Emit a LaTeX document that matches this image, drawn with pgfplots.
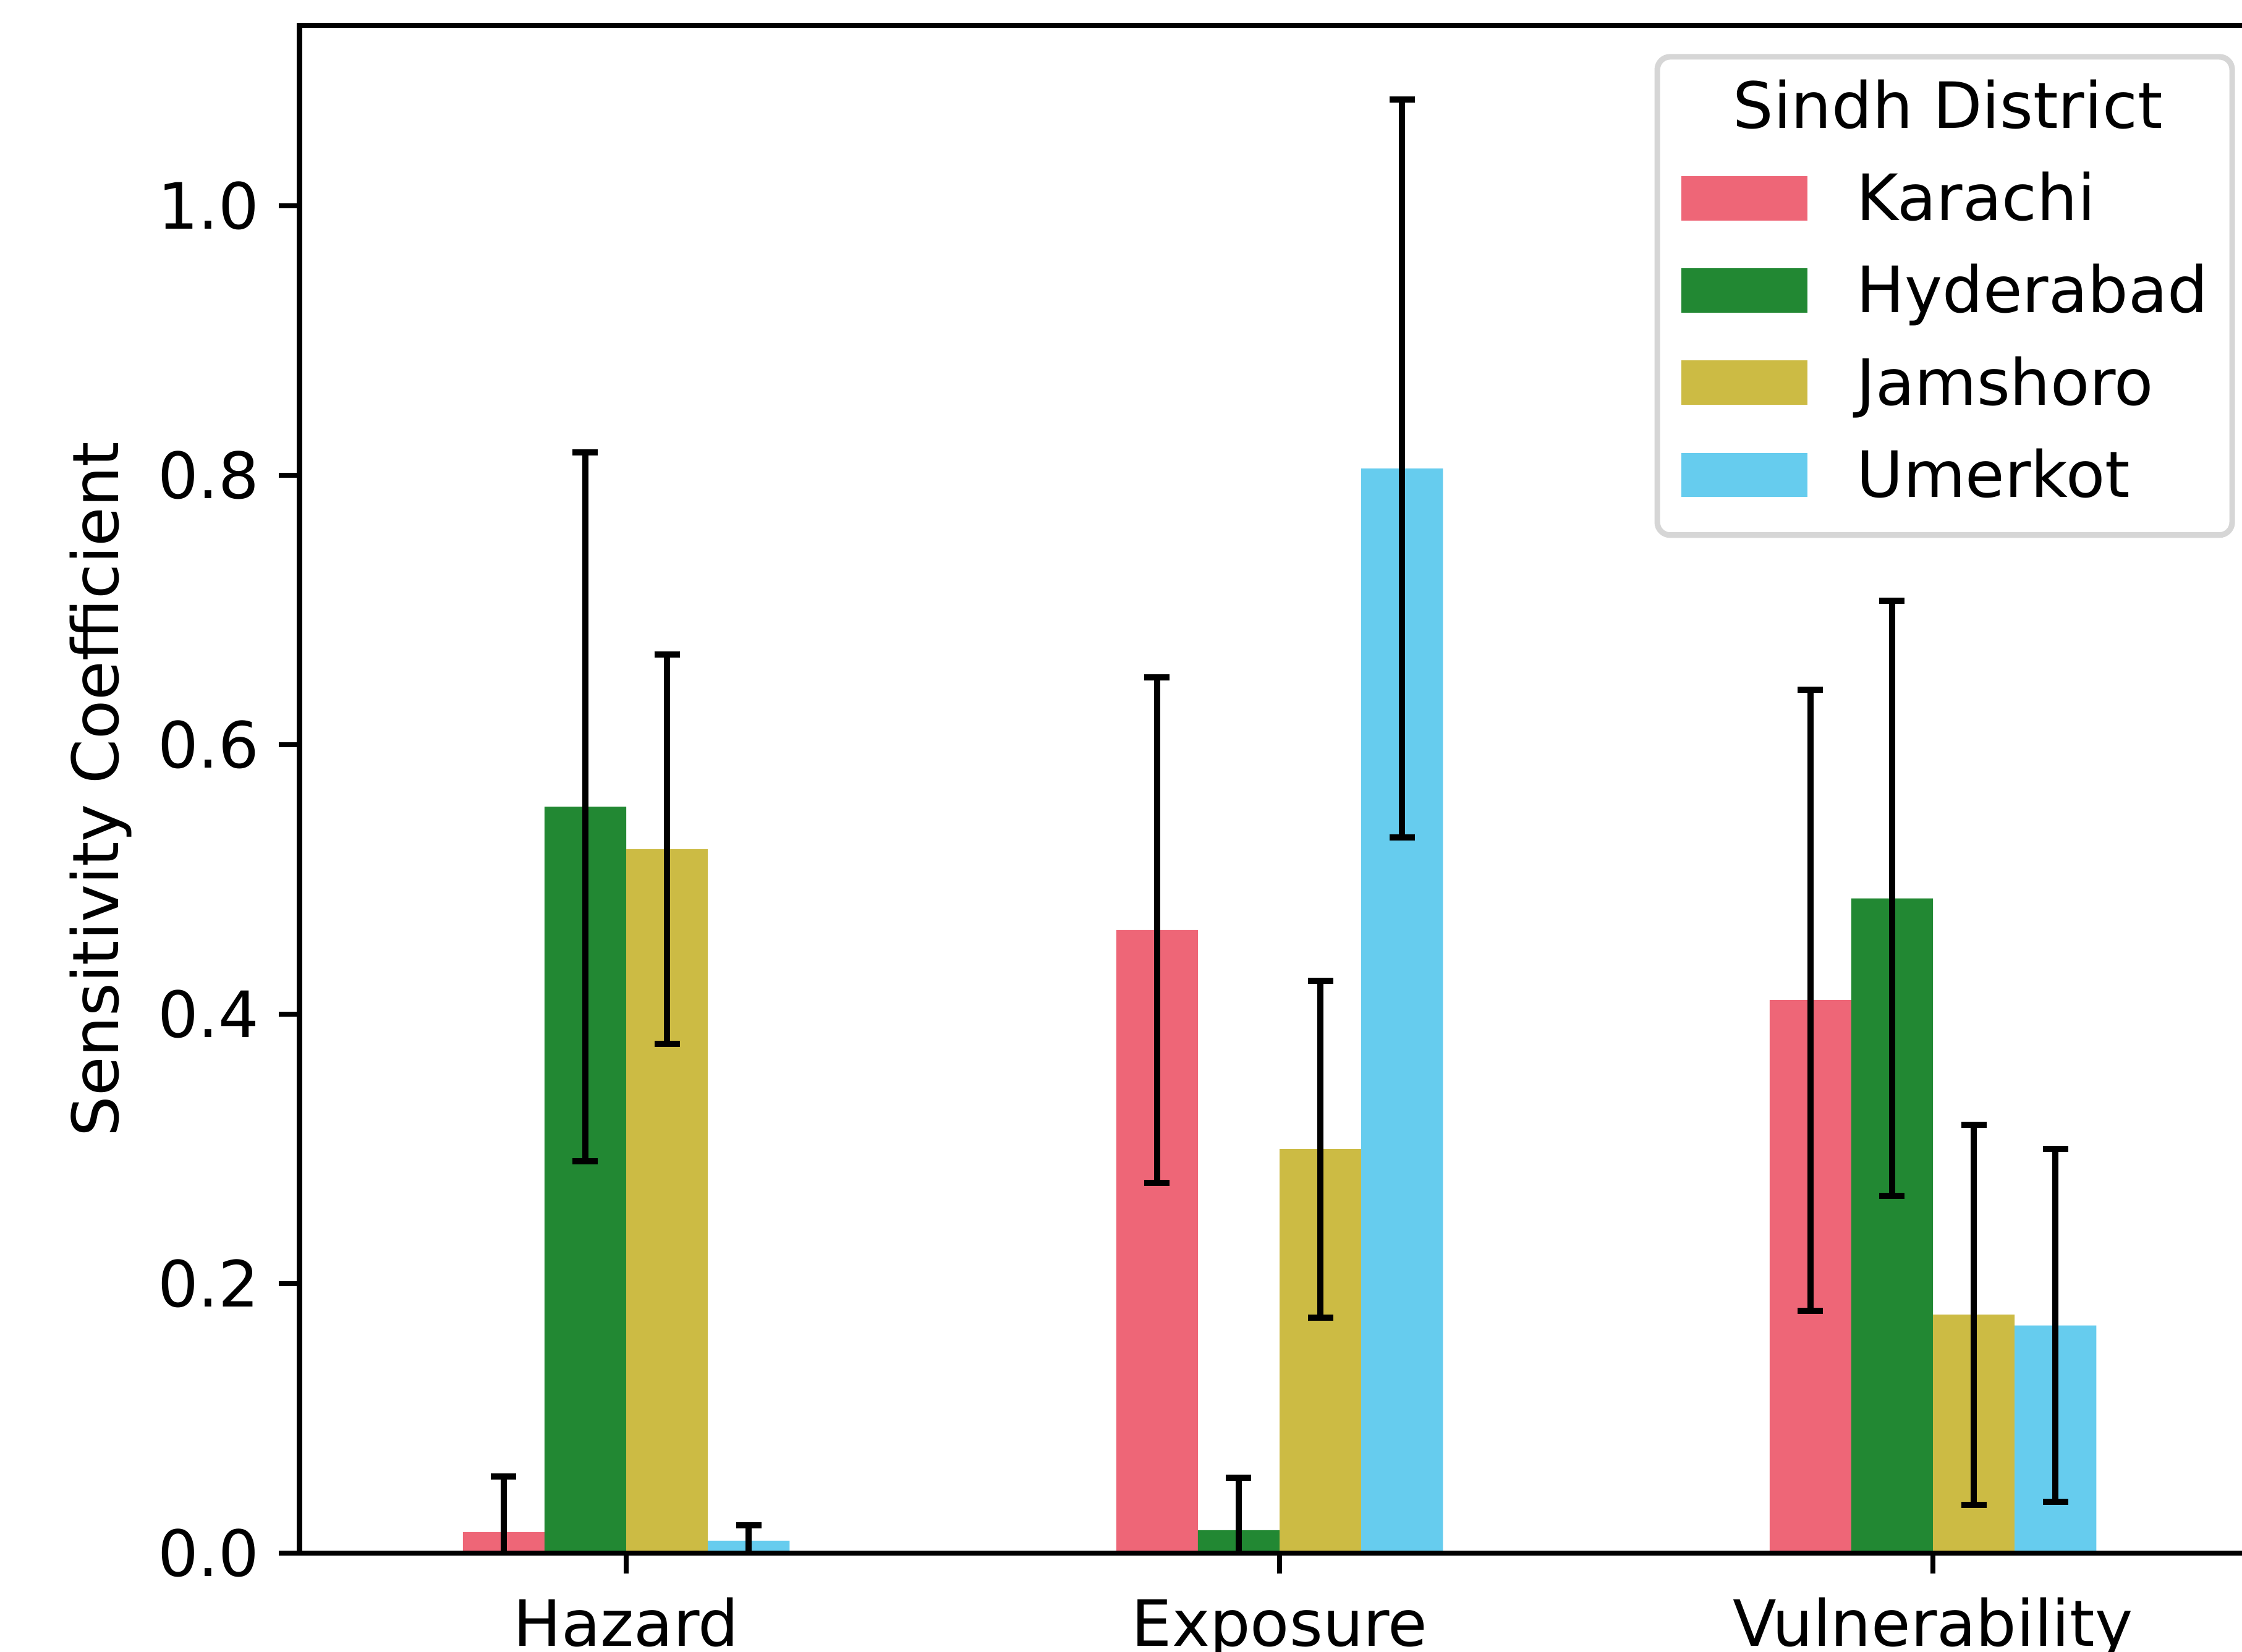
\documentclass[border=0pt]{standalone}
\usepackage{pgfplots}
\pgfplotsset{compat=1.18}
\usepackage{pgfplotstable}
\usepackage{fontspec}
\setmainfont{DejaVu Sans}
\definecolor{cKar}{HTML}{EE6677}
\definecolor{cHyd}{HTML}{228833}
\definecolor{cJam}{HTML}{CCBB44}
\definecolor{cUme}{HTML}{66CCEE}
\definecolor{legendgray}{HTML}{D6D6D6}
\newcommand{\chartfont}{\fontsize{12.4}{15}\selectfont}

\pgfplotstableread{
x y e
-0.1875 0.0156 0.0413
0.8125 0.4625 0.1875
1.8125 0.4105 0.2305
}\karachi
\pgfplotstableread{
x y e
-0.0625 0.554 0.263
0.9375 0.017 0.039
1.9375 0.486 0.221
}\hyderabad
\pgfplotstableread{
x y e
0.0625 0.5225 0.1445
1.0625 0.300 0.125
2.0625 0.177 0.141
}\jamshoro
\pgfplotstableread{
x y e
0.1875 0.0092 0.0115
1.1875 0.805 0.274
2.1875 0.169 0.131
}\umerkot

\pgfplotsset{
  barplot/.style={ybar, bar width=0.125, bar shift=0pt, draw=none, fill=#1,
    legend image code/.code={\fill[#1, sharp corners] (0pt,-3.24pt) rectangle (24.5pt,5.36pt);},
    error bars/.cd, y dir=both, y explicit,
    error bar style={line width=1.2pt, black, sharp corners},
    error mark options={rotate=90, black, mark size=2.46pt, line width=1.2pt}},
}

\begin{document}
\begin{tikzpicture}
\begin{axis}[
  at={(58.14pt,19.08pt)}, anchor=south west,
  scale only axis, width=380.52pt, height=296.64pt,
  xmin=-0.5, xmax=2.5, ymin=0, ymax=1.134,
  xtick={0,1,2}, xticklabels={Hazard,Exposure,Vulnerability},
  ytick={0,0.2,0.4,0.6,0.8,1.0},
  /pgf/number format/fixed, /pgf/number format/fixed zerofill,
  /pgf/number format/precision=1, /pgf/number format/assume math mode=true,
  font=\chartfont,
  tick label style={font=\chartfont},
  yticklabel style={inner sep=0pt, anchor=east, xshift=-3.6pt},
  xticklabel style={inner sep=0pt, anchor=base, yshift=-14pt},
  tick align=outside, major tick length=4pt, tick pos=left,
  tick style={line width=1pt, black},
  axis line style={line width=1pt, black},
  axis on top,
  ylabel={Sensitivity Coefficient},
  every axis y label/.style={at={(axis description cs:-0.0852,0.5)}, rotate=90, anchor=south, inner sep=0pt, font=\chartfont},
  legend cell align=left,
  legend style={at={(axis description cs:0.6927,0.9794)}, anchor=north west,
    draw=legendgray, line width=1.1pt, rounded corners=2.5pt, fill=white,
    inner xsep=4.7pt, inner ysep=4.45pt, outer sep=0pt,
    row sep=5.58pt, column sep=9.5pt,
    nodes={inner sep=0pt, text height=9.4pt, text depth=2.93pt, font=\chartfont}},
]
\addlegendimage{empty legend}
\addlegendentry{\makebox[0pt][l]{\hspace*{-24.5pt}Sindh District}}
\addplot[barplot=cKar] table[x=x, y=y, y error=e] {\karachi};
\addlegendentry{Karachi}
\addplot[barplot=cHyd] table[x=x, y=y, y error=e] {\hyderabad};
\addlegendentry{Hyderabad}
\addplot[barplot=cJam] table[x=x, y=y, y error=e] {\jamshoro};
\addlegendentry{Jamshoro}
\addplot[barplot=cUme] table[x=x, y=y, y error=e] {\umerkot};
\addlegendentry{Umerkot}
\end{axis}
\pgfresetboundingbox
\useasboundingbox (0,0) rectangle (435.24pt,320.64pt);
\end{tikzpicture}
\end{document}
